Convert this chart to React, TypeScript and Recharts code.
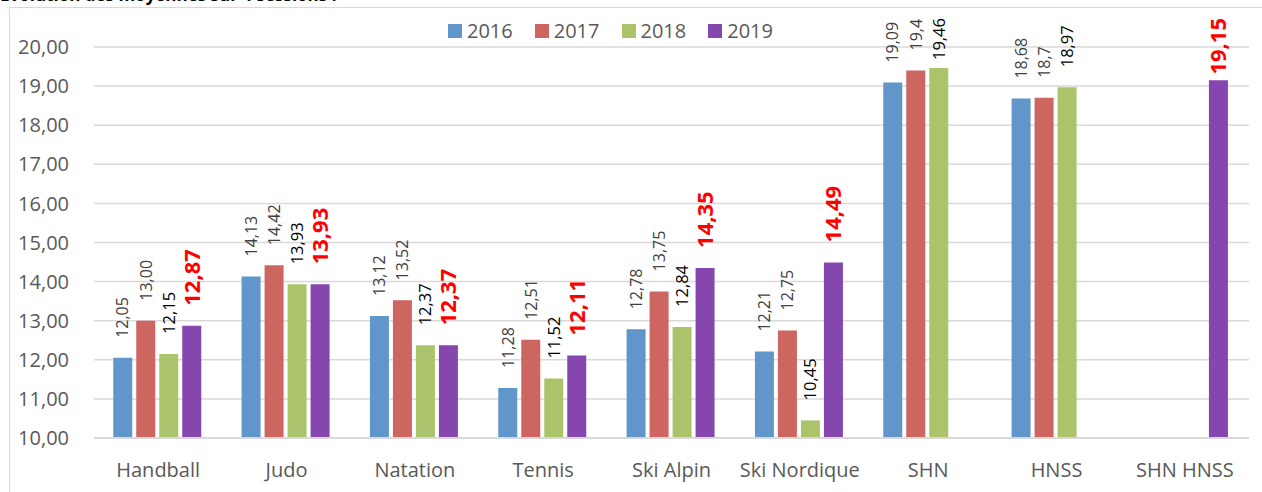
import React from 'react';
import { BarChart, Bar, XAxis, YAxis, CartesianGrid, Legend, LabelList } from 'recharts';

const categories = ['Handball', 'Judo', 'Natation', 'Tennis', 'Ski Alpin', 'Ski Nordique', 'SHN', 'HNSS', 'SHN HNSS'];
const years = ['2016', '2017', '2018', '2019'];

const v2016 = [12.05, 14.13, 13.12, 11.28, 12.78, 12.21, 19.09, 18.68, null];
const v2017 = [13.0, 14.42, 13.52, 12.51, 13.75, 12.75, 19.4, 18.7, null];
const v2018 = [12.15, 13.93, 12.37, 11.52, 12.84, 10.45, 19.46, 18.97, null];
const v2019 = [12.87, 13.93, 12.37, 12.11, 14.35, 14.49, null, null, 19.15];

const l2016 = ['12,05', '14,13', '13,12', '11,28', '12,78', '12,21', '19,09', '18,68', ''];
const l2017 = ['13,00', '14,42', '13,52', '12,51', '13,75', '12,75', '19,4', '18,7', ''];
const l2018 = ['12,15', '13,93', '12,37', '11,52', '12,84', '10,45', '19,46', '18,97', ''];
const l2019 = ['12,87', '13,93', '12,37', '12,11', '14,35', '14,49', '', '', '19,15'];

const yTicks = [10, 11, 12, 13, 14, 15, 16, 17, 18, 19, 20];

const colors = ['#6096CA', '#CD6560', '#ABC46C', '#8547AE'];

const data = categories.map((name, i) => ({
  name,
  v2016: v2016[i],
  v2017: v2017[i],
  v2018: v2018[i],
  v2019: v2019[i],
  l2016: l2016[i],
  l2017: l2017[i],
  l2018: l2018[i],
  l2019: l2019[i],
}));

const font = '"Open Sans", sans-serif';
const LABEL_TOP = 18; // labels never go above this line (like Excel keeps them inside)

// rotated value label sitting ~20px above the bar
const makeLabel = (fill: string, size: number, weight: string) => (props: any) => {
  const { x, y, width, value } = props;
  if (!value) return null;
  const s = String(value);
  const cx = Number(x) + Number(width) / 2;
  let ty = Number(y) - 20;
  const len = ((s.length - 1) * 0.572 + 0.26) * size;
  let anchor = 'start';
  if (ty - len < LABEL_TOP) {
    ty = LABEL_TOP;
    anchor = 'end';
  }
  return (
    <text
      x={cx}
      y={ty}
      transform={`rotate(-90 ${cx} ${ty})`}
      dy="0.36em"
      textAnchor={anchor}
      fill={fill}
      fontSize={size}
      fontWeight={weight}
      fontFamily={font}
    >
      {s}
    </text>
  );
};

const renderLegend = () => (
  <div style={{ display: 'flex', fontFamily: font, fontSize: 20, color: '#595959', lineHeight: '24px' }}>
    {years.map((yr, i) => (
      <div key={yr} style={{ display: 'flex', alignItems: 'center', marginRight: 22 }}>
        <span style={{ width: 14, height: 14, background: colors[i], display: 'inline-block', marginRight: 5 }} />
        <span>{yr}</span>
      </div>
    ))}
  </div>
);

export default function App() {
  return (
    <div style={{ position: 'absolute', left: 0, top: 0, width: 1262, height: 492, overflow: 'hidden', background: '#fff' }}>
      <div
        style={{
          position: 'absolute', left: 0, top: -14, fontFamily: font, fontWeight: 'bold',
          fontSize: 17, lineHeight: 1, color: '#000', whiteSpace: 'nowrap',
        }}
      >
        Évolution des moyennes sur 4 sessions :
      </div>
      <div style={{ position: 'absolute', left: 9, top: 7, width: 1300, height: 520, border: '1px solid #D9D9D9' }} />
      <div style={{ position: 'absolute', left: 0, top: 0 }}>
        <BarChart
          width={1262}
          height={492}
          data={data}
          margin={{ top: 23, right: 13, bottom: 24, left: 0 }}
          barCategoryGap="15%"
          barGap={4}
        >
          <CartesianGrid vertical={false} stroke="#D9D9D9" strokeWidth={1.5} />
          <XAxis
            dataKey="name"
            height={30}
            tickLine={false}
            axisLine={{ stroke: '#D9D9D9', strokeWidth: 2 }}
            tickMargin={19}
            interval={0}
            tick={{ fill: '#595959', fontSize: 20, fontFamily: font }}
          />
          <YAxis
            width={94}
            domain={[10, 20]}
            ticks={yTicks}
            allowDataOverflow
            tickLine={false}
            axisLine={false}
            tickMargin={19}
            tickFormatter={(v: number) => v.toFixed(2).replace('.', ',')}
            tick={{ fill: '#595959', fontSize: 20, fontFamily: font }}
          />
          <Legend
            verticalAlign="top"
            content={renderLegend}
            wrapperStyle={{ position: 'absolute', top: 19, left: 448, width: 380 }}
          />
          <Bar dataKey="v2016" name="2016" fill={colors[0]} isAnimationActive={false}>
            <LabelList dataKey="l2016" content={makeLabel('#404040', 16, 'normal')} />
          </Bar>
          <Bar dataKey="v2017" name="2017" fill={colors[1]} isAnimationActive={false}>
            <LabelList dataKey="l2017" content={makeLabel('#404040', 16, 'normal')} />
          </Bar>
          <Bar dataKey="v2018" name="2018" fill={colors[2]} isAnimationActive={false}>
            <LabelList dataKey="l2018" content={makeLabel('#000000', 16.5, 'normal')} />
          </Bar>
          <Bar dataKey="v2019" name="2019" fill={colors[3]} isAnimationActive={false}>
            <LabelList dataKey="l2019" content={makeLabel('#FF0000', 22, 'bold')} />
          </Bar>
        </BarChart>
      </div>
    </div>
  );
}
